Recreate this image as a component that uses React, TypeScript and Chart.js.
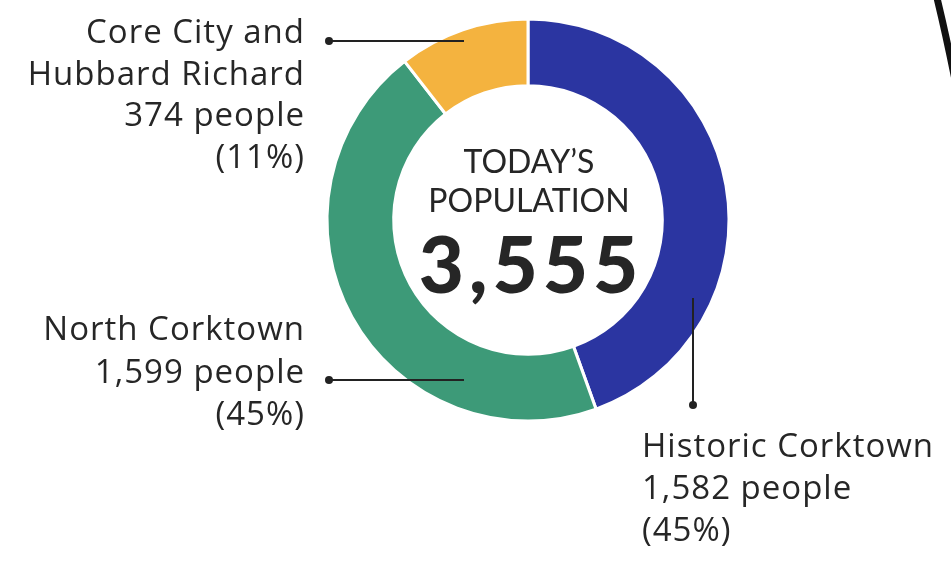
import React, { useEffect, useRef } from "react";
import { Chart, registerables } from "chart.js";

Chart.register(...registerables);

const regions = ["Historic Corktown", "North Corktown", "Core City and Hubbard Richard"];
const people = [1582, 1599, 374];
const shares = ["(45%)", "(45%)", "(11%)"];
const peopleLabels = ["1,582 people", "1,599 people", "374 people"];
const colors = ["#2B35A1", "#3D9A78", "#F4B33F"];
const centerTitle = ["TODAY\u2019S", "POPULATION"];
const totalLabel = "3,555";

const FONT = "Lato, 'Noto Sans', sans-serif";
const SIDE_FONT = "'Open Sans', 'Noto Sans', sans-serif";
const TEXT = "#262626";

const labelPlugin = {
  id: "labels",
  afterDraw(chart: any) {
    const ctx = chart.ctx;
    const meta = chart.getDatasetMeta(0);
    const arc = meta.data[0];
    const cx = arc.x;
    const cy = arc.y;
    const R = arc.outerRadius;
    ctx.save();

    // center text
    ctx.fillStyle = TEXT;
    ctx.textAlign = "center";
    ctx.textBaseline = "alphabetic";
    ctx.font = `400 32px ${FONT}`;
    ctx.fillText(centerTitle[0], cx + 1, cy - 47);
    ctx.fillText(centerTitle[1], cx + 1, cy - 8);
    ctx.font = `900 78px ${FONT}`;
    (ctx as any).letterSpacing = "5px";
    ctx.fillText(totalLabel, cx + 3, cy + 73);
    (ctx as any).letterSpacing = "0px";

    // leader lines
    ctx.strokeStyle = "#222";
    ctx.fillStyle = "#222";
    ctx.lineWidth = 2;
    const dot = (x: number, y: number) => {
      ctx.beginPath();
      ctx.arc(x, y, 4, 0, Math.PI * 2);
      ctx.fill();
    };
    // Core City
    ctx.beginPath();
    ctx.moveTo(cx - R + 2, cy - 179);
    ctx.lineTo(cx - 64, cy - 179);
    ctx.stroke();
    dot(cx - R + 2, cy - 179);
    // North Corktown
    ctx.beginPath();
    ctx.moveTo(cx - R + 2, cy + 160);
    ctx.lineTo(cx - 64, cy + 160);
    ctx.stroke();
    dot(cx - R + 2, cy + 160);
    // Historic
    ctx.beginPath();
    ctx.moveTo(cx + 165, cy + 78);
    ctx.lineTo(cx + 165, cy + 185);
    ctx.stroke();
    dot(cx + 165, cy + 185);

    // side labels
    ctx.fillStyle = TEXT;
    ctx.font = `400 33px ${SIDE_FONT}`;
    (ctx as any).letterSpacing = "1px";
    ctx.textAlign = "right";
    const lx = cx - R - 22;
    const coreLines = ["Core City and", "Hubbard Richard", peopleLabels[2], shares[2]];
    coreLines.forEach((t, i) => ctx.fillText(t, lx, cy - 177 + i * 41.5));
    const northLines = [regions[1], peopleLabels[1], shares[1]];
    northLines.forEach((t, i) => ctx.fillText(t, lx, cy + 120 + i * 42.5));
    ctx.textAlign = "left";
    const histLines = [regions[0], peopleLabels[0], shares[0]];
    histLines.forEach((t, i) => ctx.fillText(t, cx + 114, cy + 237 + i * 42));
    (ctx as any).letterSpacing = "0px";

    // black stroke at top-right corner
    ctx.strokeStyle = "#111";
    ctx.lineWidth = 7;
    ctx.beginPath();
    ctx.moveTo(937, -2);
    ctx.quadraticCurveTo(946, 35, 955, 80);
    ctx.stroke();
    ctx.restore();
  },
};

export default function App() {
  const ref = useRef<HTMLCanvasElement | null>(null);
  useEffect(() => {
    document.body.style.margin = "0";
    const chart = new Chart(ref.current as HTMLCanvasElement, {
      type: "doughnut",
      data: {
        labels: regions,
        datasets: [
          {
            data: people,
            backgroundColor: colors,
            borderColor: "#ffffff",
            borderWidth: 3,
          },
        ],
      },
      options: {
        responsive: false,
        animation: false,
        radius: 201,
        cutout: 146,
        rotation: 0,
        layout: { padding: { left: 105, right: 0, top: 0, bottom: 123 } },
        plugins: {
          legend: { display: false },
          tooltip: { enabled: false },
        },
      } as any,
      plugins: [labelPlugin],
    });
    return () => chart.destroy();
  }, []);
  return (
    <div style={{ width: 951, height: 563, background: "#fff" }}>
      <canvas ref={ref} width={951} height={563} />
    </div>
  );
}
